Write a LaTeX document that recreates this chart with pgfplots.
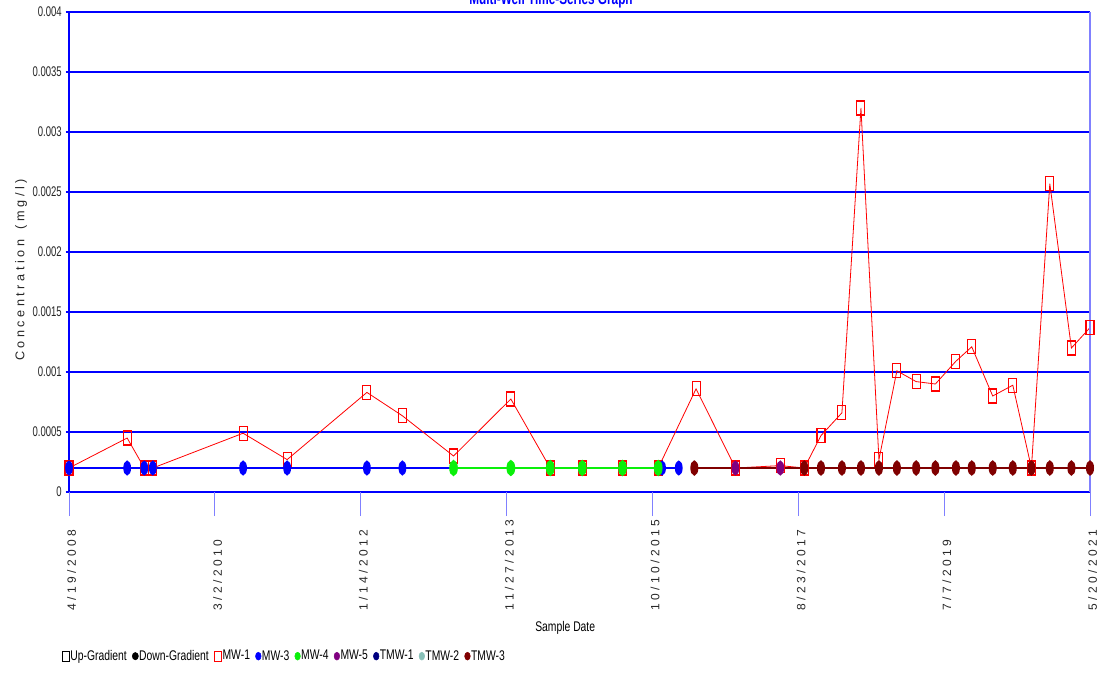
\documentclass[border=0pt]{standalone}
\usepackage{pgfplots}
\pgfplotsset{compat=1.18}
\usepackage{fontspec}
\setmainfont{Liberation Sans}
\newfontfamily\narrow{Liberation Sans}[FakeStretch=0.68]
\newfontfamily\legfont{Liberation Sans}[FakeStretch=0.74]
\definecolor{mwred}{RGB}{255,0,0}
\definecolor{mwblue}{RGB}{0,0,255}
\definecolor{mwgreen}{RGB}{10,240,10}
\definecolor{mwpurple}{RGB}{128,0,128}
\definecolor{tmwnavy}{RGB}{0,0,128}
\definecolor{tmwteal}{RGB}{136,192,184}
\definecolor{tmwdark}{RGB}{128,0,0}
\definecolor{gridblue}{RGB}{0,0,255}
\definecolor{lightaxis}{RGB}{128,128,255}
\begin{document}
\begin{tikzpicture}
\path[use as bounding box] (0pt,0pt) rectangle (834pt,504pt);
\clip (0pt,0pt) rectangle (834pt,504pt);
\begin{axis}[
  at={(51.75pt,135pt)}, anchor=south west,
  width=765.75pt, height=360pt, scale only axis,
  xmin=0, xmax=4774, ymin=0, ymax=0.004,
  clip=false,
  separate axis lines,
  axis line style={draw=none},
  xtick pos=bottom, ytick pos=left,
  xtick={0,682,1364,2046,2728,3410,4092,4774},
  xticklabels={{4 / 1 9 / 2 0 0 8},{3 / 2 / 2 0 1 0},{1 / 1 4 / 2 0 1 2},{1 1 / 2 7 / 2 0 1 3},{1 0 / 1 0 / 2 0 1 5},{8 / 2 3 / 2 0 1 7},{7 / 7 / 2 0 1 9},{5 / 2 0 / 2 0 2 1}},
  ytick={0,0.0005,0.001,0.0015,0.002,0.0025,0.003,0.0035,0.004},
  yticklabels={0,0.0005,0.001,0.0015,0.002,0.0025,0.003,0.0035,0.004},
  scaled y ticks=false,
  tick align=outside,
  xtick style={draw=lightaxis, line width=0.6pt, /pgfplots/major tick length=18pt},
  ytick style={draw=gridblue, line width=1pt, /pgfplots/major tick length=2.5pt},
  ymajorgrids=true,
  grid style={gridblue, line width=1.3pt},
  yticklabel style={font=\narrow\fontsize{10.5}{12}\selectfont, text=black!85, inner sep=1pt},
  xticklabel style={font=\fontsize{9}{10}\selectfont, text=black!85, yshift=-88pt, xshift=2pt, rotate=90, anchor=west},
  xlabel={Sample Date},
  xlabel style={at={(axis description cs:0.486,-0.283)}, anchor=center, font=\legfont\fontsize{10.5}{12}\selectfont},
  ylabel={C o n c e n t r a t i o n \ \ ( m g / l )},
  ylabel style={at={(axis description cs:-0.047,0.4625)}, anchor=center, font=\fontsize{9.5}{11}\selectfont, text=black!85},
  legend style={draw=none, fill=none, at={(axis description cs:-0.007,-0.342)}, anchor=west,
    legend columns=-1, font=\legfont\fontsize{10.5}{12}\selectfont, inner sep=0pt,
    nodes={inner sep=0.6pt},
    /tikz/every even column/.append style={column sep=3.5pt},
    /tikz/every odd column/.append style={column sep=0pt}},
  legend image code/.code={\draw[#1] plot coordinates {(0pt,0pt)};},
]
% MW-1
\addplot[mwred, line width=0.6pt, mark=square, mark size=3pt, mark options={color=mwred, yscale=1.75, solid, line width=0.8pt}, forget plot] coordinates {
(0,0.0002) (272,0.00045) (352,0.0002) (392,0.0002) (814,0.00049) (1020,0.00027)
(1393,0.00083) (1559,0.000635) (1798,0.0003) (2066,0.000775) (2250,0.0002)
(2400,0.0002) (2588,0.0002) (2755,0.0002) (2932,0.00086) (3116,0.0002)
(3326,0.00022) (3438,0.0002) (3516,0.00047) (3614,0.00066) (3703,0.0032)
(3787,0.00027) (3871,0.00101) (3961,0.00092) (4051,0.0009) (4147,0.00109)
(4221,0.00121) (4319,0.0008) (4413,0.00089) (4500,0.0002) (4586,0.00257)
(4687,0.0012) (4774,0.00137)};
% MW-3
\addplot[mwblue, line width=1.3pt, mark=*, mark size=2.25pt, mark options={yscale=2.17}, forget plot] coordinates {
(0,0.0002) (272,0.0002) (352,0.0002) (392,0.0002) (814,0.0002) (1020,0.0002)
(1393,0.0002) (1559,0.0002) (2773,0.0002) (2851,0.0002)};
% MW-4
\addplot[mwgreen, line width=2pt, mark=*, mark size=2.25pt, mark options={yscale=2.17}, forget plot] coordinates {
(1798,0.0002) (2066,0.0002) (2250,0.0002) (2400,0.0002) (2588,0.0002) (2755,0.0002)};
% MW-5
\addplot[mwpurple, line width=1.3pt, mark=*, mark size=2.25pt, mark options={yscale=2.17}, forget plot] coordinates {
(3116,0.0002) (3326,0.0002)};
% TMW-3
\addplot[tmwdark, line width=1.5pt, mark=*, mark size=2.25pt, mark options={yscale=2.17}, forget plot] coordinates {
(2924,0.0002) (3438,0.0002) (3516,0.0002) (3614,0.0002) (3703,0.0002) (3787,0.0002)
(3871,0.0002) (3961,0.0002) (4051,0.0002) (4147,0.0002) (4221,0.0002) (4319,0.0002)
(4413,0.0002) (4500,0.0002) (4586,0.0002) (4687,0.0002) (4774,0.0002)};
% axis frame
\draw[gridblue, line width=1.5pt] (rel axis cs:0,0) -- (rel axis cs:0,1) -- (rel axis cs:1,1);
\draw[lightaxis, line width=0.8pt] (rel axis cs:1,1) -- (rel axis cs:1,0);
% legend
\addlegendimage{black, mark=square, mark size=2.8pt, mark options={yscale=1.35}, line width=0.5pt}
\addlegendimage{black, mark=*, mark size=2.3pt, mark options={yscale=1.2}}
\addlegendimage{mwred, mark=square, mark size=2.8pt, mark options={color=mwred, yscale=1.35}, line width=0.6pt}
\addlegendimage{mwblue, mark=*, mark size=2.1pt, mark options={yscale=1.4}}
\addlegendimage{mwgreen, mark=*, mark size=2.1pt, mark options={yscale=1.4}}
\addlegendimage{mwpurple, mark=*, mark size=2.1pt, mark options={yscale=1.4}}
\addlegendimage{tmwnavy, mark=*, mark size=2.1pt, mark options={yscale=1.4}}
\addlegendimage{tmwteal, mark=*, mark size=2.1pt, mark options={yscale=1.4}}
\addlegendimage{tmwdark, mark=*, mark size=2.1pt, mark options={yscale=1.4}}
\legend{Up-Gradient, Down-Gradient, MW-1, MW-3, MW-4, MW-5, TMW-1, TMW-2, TMW-3}
\end{axis}
\node[font=\narrow\bfseries\fontsize{13}{14}\selectfont, text=gridblue, anchor=base] at (413.25pt,500.5pt) {Multi-Well Time-Series Graph};
\end{tikzpicture}
\end{document}
